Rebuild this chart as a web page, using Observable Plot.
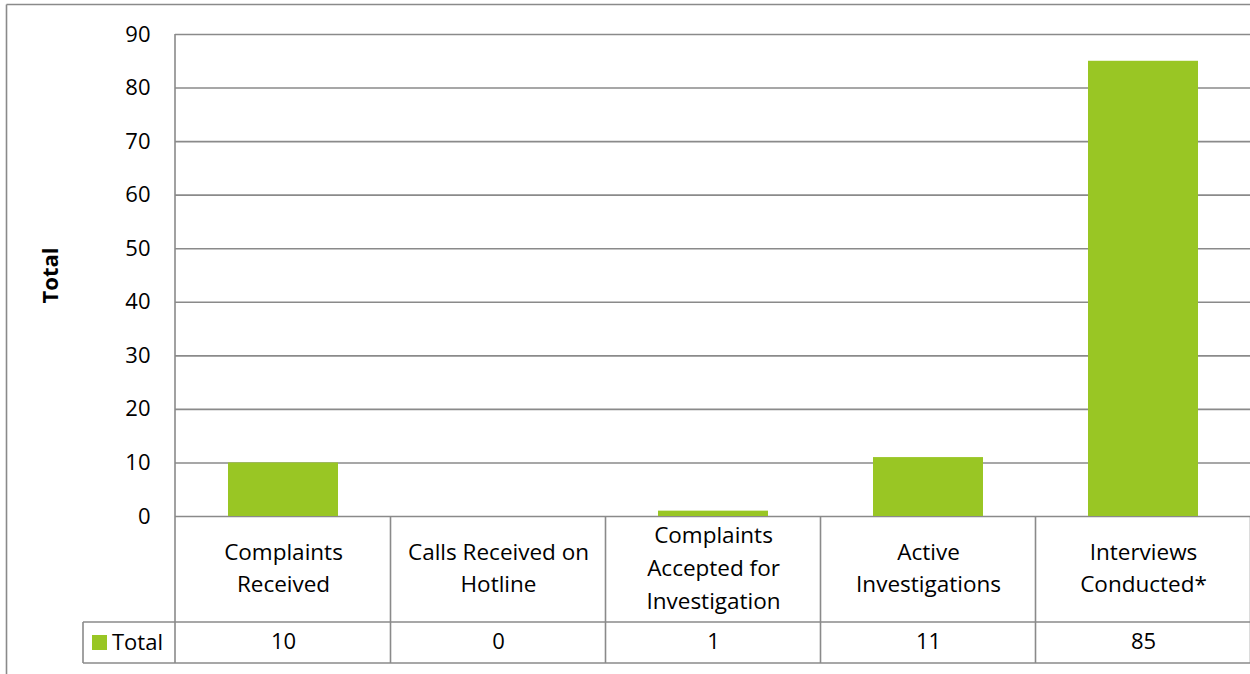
<!DOCTYPE html>
<html>
<head>
<meta charset="utf-8">
<script src="https://cdn.jsdelivr.net/npm/d3@7"></script>
<script src="https://cdn.jsdelivr.net/npm/@observablehq/plot@0.6"></script>
<style>
  html, body { margin: 0; padding: 0; background: #fff; }
  #chart svg { display: block; }
</style>
</head>
<body>
<div id="chart"></div>
<script>
// ---- data ----
const categories = [
  "Complaints\nReceived",
  "Calls Received on\nHotline",
  "Complaints\nAccepted for\nInvestigation",
  "Active\nInvestigations",
  "Interviews\nConducted*"
];
const totals = [10, 0, 1, 11, 85];
const yTicks = [0, 10, 20, 30, 40, 50, 60, 70, 80, 90];
const seriesName = "Total";
const yLabel = "Total";

const data = categories.map((c, i) => ({category: c, value: totals[i]}));

// ---- style ----
const barColor = "#99c624";
const lineColor = "#8a8a8a";
const font = "'Open Sans', 'DejaVu Sans', sans-serif";

const W = 1250, H = 674;
const mTop = 34, mBottom = 158, mLeft = 175;
const row1 = 106, row2 = 41, legendLeft = 83;

const chart = Plot.plot({
  width: W,
  height: H,
  marginTop: mTop,
  marginBottom: mBottom,
  marginLeft: mLeft,
  marginRight: 0,
  style: {fontFamily: font, fontSize: "22px", color: "#000", background: "#fff"},
  x: {domain: categories, range: [mLeft, W + 1], paddingInner: 0.49, paddingOuter: 0.245, axis: null},
  y: {domain: [0, 90], ticks: yTicks, label: null},
  marks: [
    Plot.gridY(yTicks, {stroke: lineColor, strokeOpacity: 1, strokeWidth: 1.6}),
    Plot.axisY(yTicks, {tickSize: 0, tickPadding: 25, fontSize: 22, label: null}),
    Plot.barY(data, {x: "category", y: "value", fill: barColor}),
    Plot.text(data, {x: "category", y: () => 0, dy: row1 / 2 - 4, text: "category", fontSize: 22.5, lineHeight: 1.45, fill: "#000"}),
    Plot.text(data, {x: "category", y: () => 0, dy: row1 + row2 / 2 - 1, text: d => String(d.value), fontSize: 22, fill: "#000"}),
    Plot.text([yLabel], {frameAnchor: "left", textAnchor: "middle", dx: -125, rotate: -90, text: d => d, fontSize: 22, fontWeight: "bold", fill: "#000"})
  ]
});

document.getElementById("chart").appendChild(chart);

// ---- data table grid drawn from the plot's own scales ----
const sx = chart.scale("x");
const sy = chart.scale("y");
const y0 = sy.apply(0);
const yTop = sy.apply(90);
const step = sx.step;
const centers = categories.map(c => sx.apply(c) + sx.bandwidth / 2);
const borders = centers.map(c => c - step / 2).concat([centers[centers.length - 1] + step / 2]);

const svg = d3.select(chart);
const g = svg.append("g").attr("stroke", lineColor).attr("stroke-width", 1.6).attr("fill", "none");

// left axis line
g.append("line").attr("x1", mLeft).attr("x2", mLeft).attr("y1", yTop).attr("y2", y0 + row1 + row2);
// column borders
borders.slice(1).forEach(b => {
  g.append("line").attr("x1", b).attr("x2", b).attr("y1", y0).attr("y2", y0 + row1 + row2);
});
// row borders
g.append("line").attr("x1", legendLeft).attr("x2", W).attr("y1", y0 + row1).attr("y2", y0 + row1);
g.append("line").attr("x1", legendLeft).attr("x2", W).attr("y1", y0 + row1 + row2).attr("y2", y0 + row1 + row2);
g.append("line").attr("x1", legendLeft).attr("x2", legendLeft).attr("y1", y0 + row1).attr("y2", y0 + row1 + row2);

// outer chart border
g.append("line").attr("x1", 6.5).attr("x2", W).attr("y1", 4.5).attr("y2", 4.5);
g.append("line").attr("x1", 6.5).attr("x2", 6.5).attr("y1", 4.5).attr("y2", H);

// legend key in data table
const ly = y0 + row1 + row2 / 2;
svg.append("rect").attr("x", 92).attr("y", ly - 7.5).attr("width", 15).attr("height", 15).attr("fill", barColor);
svg.append("text").attr("x", 112).attr("y", ly).attr("dy", "0.35em")
  .attr("text-anchor", "start")
  .attr("font-family", font).attr("font-size", 22).attr("fill", "#000").text(seriesName);
</script>
</body>
</html>
